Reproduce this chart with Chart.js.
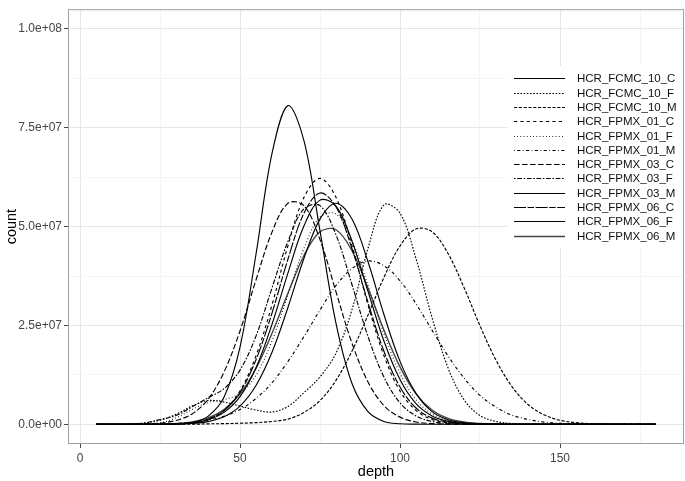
<!DOCTYPE html>
<html>
<head>
<meta charset="utf-8">
<script src="https://cdn.jsdelivr.net/npm/chart.js@4.4.1/dist/chart.umd.min.js"></script>
<style>
  html, body { margin: 0; padding: 0; background: #fff; }
</style>
</head>
<body>
<canvas id="chart" width="685" height="481"></canvas>
<script>
// depth grid shared by every sample
const depth = [5, 10, 15, 20, 25, 30, 35, 40, 45, 50, 55, 60, 65, 70, 75, 80, 85, 90,
  95, 100, 105, 110, 115, 120, 125, 130, 135, 140, 145, 150, 155, 160, 165, 170, 175, 180];

// counts, in millions
const FCMC_10_C = [0, 0, 0, 0, 0, 0.06, 0.4, 2.0, 6.8, 19.5, 43, 68.5, 80.6, 71.7, 48.9, 25.5, 10.3, 3.2,
  0.7, 0.13, 0.02, 0, 0, 0, 0, 0, 0, 0, 0, 0, 0, 0, 0, 0, 0, 0];
const FCMC_10_F = [0, 0, 0.05, 0.3, 1.0, 2.5, 4.6, 6.0, 5.6, 4.6, 3.6, 3.1, 4.5, 8, 12, 18, 29, 44.5,
  55.5, 53.4, 41.9, 27, 14.3, 6.2, 2.2, 0.7, 0.2, 0.05, 0, 0, 0, 0, 0, 0, 0, 0];
const FCMC_10_M = [0, 0, 0, 0, 0, 0, 0, 0.1, 0.15, 0.25, 0.4, 0.7, 1.3, 3.0, 6.0, 11.1, 18.5, 27.6,
  37.2, 45.1, 49.4, 48.7, 43.2, 34.6, 24.9, 16.2, 9.5, 5.0, 2.4, 1.0, 0.4, 0.14, 0.05, 0.01, 0, 0];
const FPMX_01_C = [0, 0, 0, 0, 0.02, 0.09, 0.37, 1.2, 3.5, 8.4, 17.3, 30.2, 45.2, 57.4, 62.2, 57.4, 45.2, 30.2,
  17.3, 8.4, 3.5, 1.2, 0.37, 0.09, 0.02, 0, 0, 0, 0, 0, 0, 0, 0, 0, 0, 0];
const FPMX_01_F = [0, 0, 0, 0, 0.3, 1.6, 3.7, 5.5, 6.2, 7.8, 12.4, 21.1, 32.7, 44.5, 52.4, 53.2, 46.5, 35.1,
  22.9, 12.9, 6.2, 2.6, 0.94, 0.29, 0.08, 0.02, 0, 0, 0, 0, 0, 0, 0, 0, 0, 0];
const FPMX_01_M = [0, 0, 0, 0, 0, 0.19, 0.45, 0.98, 2.0, 3.7, 6.5, 10.5, 15.9, 22.2, 28.9, 35.1, 39.4, 41.3,
  40.1, 36.3, 30.5, 23.8, 17.3, 11.7, 7.3, 4.3, 2.3, 1.2, 0.55, 0.24, 0.1, 0.04, 0, 0, 0, 0];
const FPMX_03_C = [0, 0, 0, 0.08, 0.29, 0.95, 2.6, 6.3, 13.2, 23.6, 36.5, 48.6, 55.9, 55.3, 46.7, 33.5, 20.5, 10.7,
  4.7, 1.8, 0.58, 0.16, 0.04, 0, 0, 0, 0, 0, 0, 0, 0, 0, 0, 0, 0, 0];
const FPMX_03_F = [0, 0, 0, 0.3, 1.2, 2.2, 4.4, 6.7, 9, 13.7, 22.3, 34.5, 46.3, 54.5, 55.3, 47.9, 35.3, 22.2,
  11.9, 5.4, 2.1, 0.7, 0.2, 0.05, 0, 0, 0, 0, 0, 0, 0, 0, 0, 0, 0, 0];
const FPMX_03_M = [0, 0, 0, 0, 0, 0.09, 0.34, 1.1, 3.0, 7.0, 14.3, 25.3, 38.3, 50.2, 56.7, 55.2, 46.3, 33.6,
  21, 11.3, 5.2, 2.1, 0.73, 0.22, 0.06, 0.01, 0, 0, 0, 0, 0, 0, 0, 0, 0, 0];
const FPMX_06_C = [0, 0, 0, 0, 0, 0.1, 0.39, 1.26, 3.4, 8.1, 16.3, 28.1, 41.8, 53.4, 58.5, 55, 44.4, 30.8,
  18.4, 9.4, 4.1, 1.55, 0.5, 0.14, 0.03, 0, 0, 0, 0, 0, 0, 0, 0, 0, 0, 0];
const FPMX_06_F = [0, 0, 0, 0, 0, 0.06, 0.2, 0.66, 1.9, 4.6, 9.8, 18.2, 29.6, 42, 51.9, 55.9, 51.9, 41.1,
  27.7, 15.9, 7.8, 3.2, 1.15, 0.35, 0.09, 0.02, 0, 0, 0, 0, 0, 0, 0, 0, 0, 0];
const FPMX_06_M = [0, 0, 0, 0, 0.06, 0.2, 0.61, 1.6, 3.7, 7.7, 14.1, 23, 33.2, 42.7, 48.7, 49.2, 43.9, 34.4,
  23.8, 14.5, 7.7, 3.6, 1.5, 0.55, 0.18, 0.05, 0, 0, 0, 0, 0, 0, 0, 0, 0, 0];

const sampleNames = ["HCR_FCMC_10_C", "HCR_FCMC_10_F", "HCR_FCMC_10_M", "HCR_FPMX_01_C",
  "HCR_FPMX_01_F", "HCR_FPMX_01_M", "HCR_FPMX_03_C", "HCR_FPMX_03_F", "HCR_FPMX_03_M",
  "HCR_FPMX_06_C", "HCR_FPMX_06_F", "HCR_FPMX_06_M"];
const sampleCounts = [FCMC_10_C, FCMC_10_F, FCMC_10_M, FPMX_01_C, FPMX_01_F, FPMX_01_M,
  FPMX_03_C, FPMX_03_F, FPMX_03_M, FPMX_06_C, FPMX_06_F, FPMX_06_M];

const xTickValues = [0, 25, 50, 75, 100, 125, 150, 175];
const xTickLabels = ["0", "", "50", "", "100", "", "150", ""];
const yTickValues = [0, 12.5e6, 25e6, 37.5e6, 50e6, 62.5e6, 75e6, 87.5e6, 100e6];
const yTickLabels = ["0.0e+00", "", "2.5e+07", "", "5.0e+07", "", "7.5e+07", "", "1.0e+08"];

// line types, ggplot order
const dashes = [[], [1.6, 1.6], [3.2, 1.6], [3.2, 3.2], [0.8, 2.4], [0.8, 2.4, 3.2, 2.4],
  [5.6, 2.4], [1.6, 1.6, 4.8, 1.6], [], [12, 1.6, 6.4, 1.6], [], []];

const FONT = "'Liberation Sans', Arial, Helvetica, sans-serif";

const datasets = sampleNames.map(function (name, i) {
  return {
    label: name,
    data: depth.map(function (d, j) { return { x: d, y: sampleCounts[i][j] * 1e6 }; }),
    borderColor: i === 11 ? "#444" : "#000",
    borderWidth: i === 11 ? 1.4 : 1.15,
    borderDash: dashes[i],
    pointRadius: 0,
    fill: false,
    tension: 0.35
  };
});

const frame = {
  id: "frame",
  afterDraw(chart) {
    const ctx = chart.ctx;
    const a = chart.chartArea;
    ctx.save();
    ctx.strokeStyle = "#a0a0a0";
    ctx.lineWidth = 1;
    ctx.setLineDash([]);
    ctx.strokeRect(a.left + 0.5, a.top + 0.5, a.right - a.left - 1, a.bottom - a.top - 1);

    // legend inside the panel
    ctx.fillStyle = "#fff";
    ctx.fillRect(507, 66, 176, 182);
    ctx.font = "11.5px " + FONT;
    ctx.textBaseline = "middle";
    chart.data.datasets.forEach(function (ds, i) {
      const y = Math.round(78.3 + i * 14.3) + 0.5;
      ctx.strokeStyle = ds.borderColor;
      ctx.lineWidth = ds.borderWidth;
      ctx.setLineDash(ds.borderDash);
      ctx.beginPath();
      ctx.moveTo(514, y);
      ctx.lineTo(565, y);
      ctx.stroke();
      ctx.fillStyle = "#111";
      ctx.fillText(ds.label, 577, y);
    });

    // axis titles
    ctx.setLineDash([]);
    ctx.fillStyle = "#000";
    ctx.font = "14.5px " + FONT;
    ctx.textAlign = "center";
    ctx.fillText("depth", (a.left + a.right) / 2, 472);
    ctx.translate(12, (a.top + a.bottom) / 2);
    ctx.rotate(-Math.PI / 2);
    ctx.fillText("count", 0, 0);
    ctx.restore();
  }
};

new Chart(document.getElementById("chart"), {
  type: "line",
  data: { datasets: datasets },
  options: {
    responsive: false,
    animation: false,
    devicePixelRatio: 1,
    layout: { padding: { left: 0, right: 1, top: 0, bottom: 0 } },
    plugins: { legend: { display: false }, tooltip: { enabled: false } },
    scales: {
      x: {
        type: "linear",
        min: -3.75,
        max: 188.75,
        afterBuildTicks: function (scale) {
          scale.ticks = xTickValues.map(function (v) { return { value: v }; });
        },
        afterFit: function (scale) { scale.height = 37; },
        border: { display: false },
        grid: {
          color: function (c) { return xTickLabels[xTickValues.indexOf(c.tick.value)] ? "#e6e6e6" : "#f4f4f4"; },
          tickColor: function (c) { return xTickLabels[xTickValues.indexOf(c.tick.value)] ? "#444" : "rgba(0,0,0,0)"; },
          tickLength: 4
        },
        ticks: {
          autoSkip: false,
          maxRotation: 0,
          padding: 3,
          color: "#444",
          font: { family: FONT, size: 12 },
          callback: function (v) { return xTickLabels[xTickValues.indexOf(v)]; }
        }
      },
      y: {
        type: "linear",
        min: -5e6,
        max: 1.05e8,
        afterBuildTicks: function (scale) {
          scale.ticks = yTickValues.map(function (v) { return { value: v }; });
        },
        afterFit: function (scale) { scale.width = 68; },
        border: { display: false },
        grid: {
          color: function (c) { return yTickLabels[yTickValues.indexOf(c.tick.value)] ? "#e6e6e6" : "#f4f4f4"; },
          tickColor: function (c) { return yTickLabels[yTickValues.indexOf(c.tick.value)] ? "#444" : "rgba(0,0,0,0)"; },
          tickLength: 4
        },
        ticks: {
          autoSkip: false,
          padding: 2,
          color: "#444",
          font: { family: FONT, size: 12 },
          callback: function (v) { return yTickLabels[yTickValues.indexOf(v)]; }
        }
      }
    }
  },
  plugins: [frame]
});
</script>
</body>
</html>
